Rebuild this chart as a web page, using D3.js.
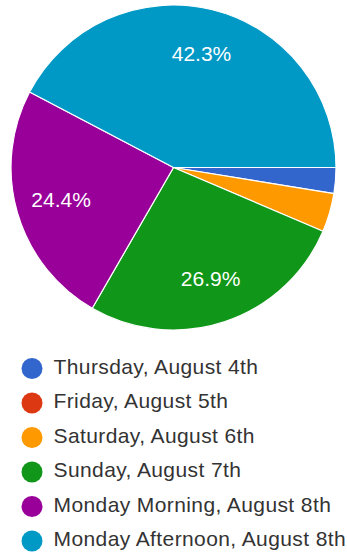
<!DOCTYPE html>
<html>
<head>
<meta charset="utf-8">
<script src="https://cdn.jsdelivr.net/npm/d3@7"></script>
<style>
  html, body { margin: 0; padding: 0; background: #fff; }
  svg { display: block; }
</style>
</head>
<body>
<svg id="chart" width="347" height="554"></svg>
<script>
// Responses per session
const categories = [
  "Thursday, August 4th",
  "Friday, August 5th",
  "Saturday, August 6th",
  "Sunday, August 7th",
  "Monday Morning, August 8th",
  "Monday Afternoon, August 8th"
];
const responses = [2, 0, 3, 21, 19, 33];
const colors = ["#3366cc", "#dc3912", "#ff9900", "#109618", "#990099", "#0099c6"];

const svg = d3.select("#chart");
const cx = 173.5, cy = 167.5, radius = 162.5, labelRadius = 117;
const font = "Arial, 'Liberation Sans', sans-serif";

const total = d3.sum(responses);
const data = categories.map((c, i) => ({ name: c, value: responses[i], color: colors[i] }));

const pie = d3.pie()
  .value(d => d.value)
  .sort(null)
  .startAngle(Math.PI / 2)
  .endAngle(Math.PI / 2 + 2 * Math.PI);

const arc = d3.arc().innerRadius(0).outerRadius(radius);
const labelArc = d3.arc().innerRadius(labelRadius).outerRadius(labelRadius);

const g = svg.append("g").attr("transform", `translate(${cx},${cy})`);
const arcs = pie(data);

g.selectAll("path.slice")
  .data(arcs.filter(a => a.data.value > 0))
  .join("path")
  .attr("class", "slice")
  .attr("d", arc)
  .attr("fill", d => d.data.color)
  .attr("stroke", "#fff")
  .attr("stroke-width", 1.2);

// Percentage labels on slices large enough to hold them
g.selectAll("text.pct")
  .data(arcs.filter(a => a.data.value / total > 0.1))
  .join("text")
  .attr("class", "pct")
  .attr("transform", d => `translate(${labelArc.centroid(d)})`)
  .attr("text-anchor", "middle")
  .attr("dy", "0.35em")
  .attr("font-family", font)
  .attr("font-size", 21)
  .attr("fill", "#fff")
  .text(d => (d.data.value / total * 100).toFixed(1) + "%");

// Legend
const legendY = d3.scalePoint()
  .domain(categories)
  .range([368.5, 541]);

const rows = svg.append("g").selectAll("g.row")
  .data(data)
  .join("g")
  .attr("class", "row")
  .attr("transform", d => `translate(0,${legendY(d.name)})`);

rows.append("circle")
  .attr("cx", 32)
  .attr("cy", 0)
  .attr("r", 10.5)
  .attr("fill", d => d.color);

rows.append("text")
  .attr("x", 53.5)
  .attr("y", 5)
  .attr("font-family", font)
  .attr("font-size", 21)
  .attr("letter-spacing", 0.4)
  .attr("fill", "#333")
  .text(d => d.name);
</script>
</body>
</html>
